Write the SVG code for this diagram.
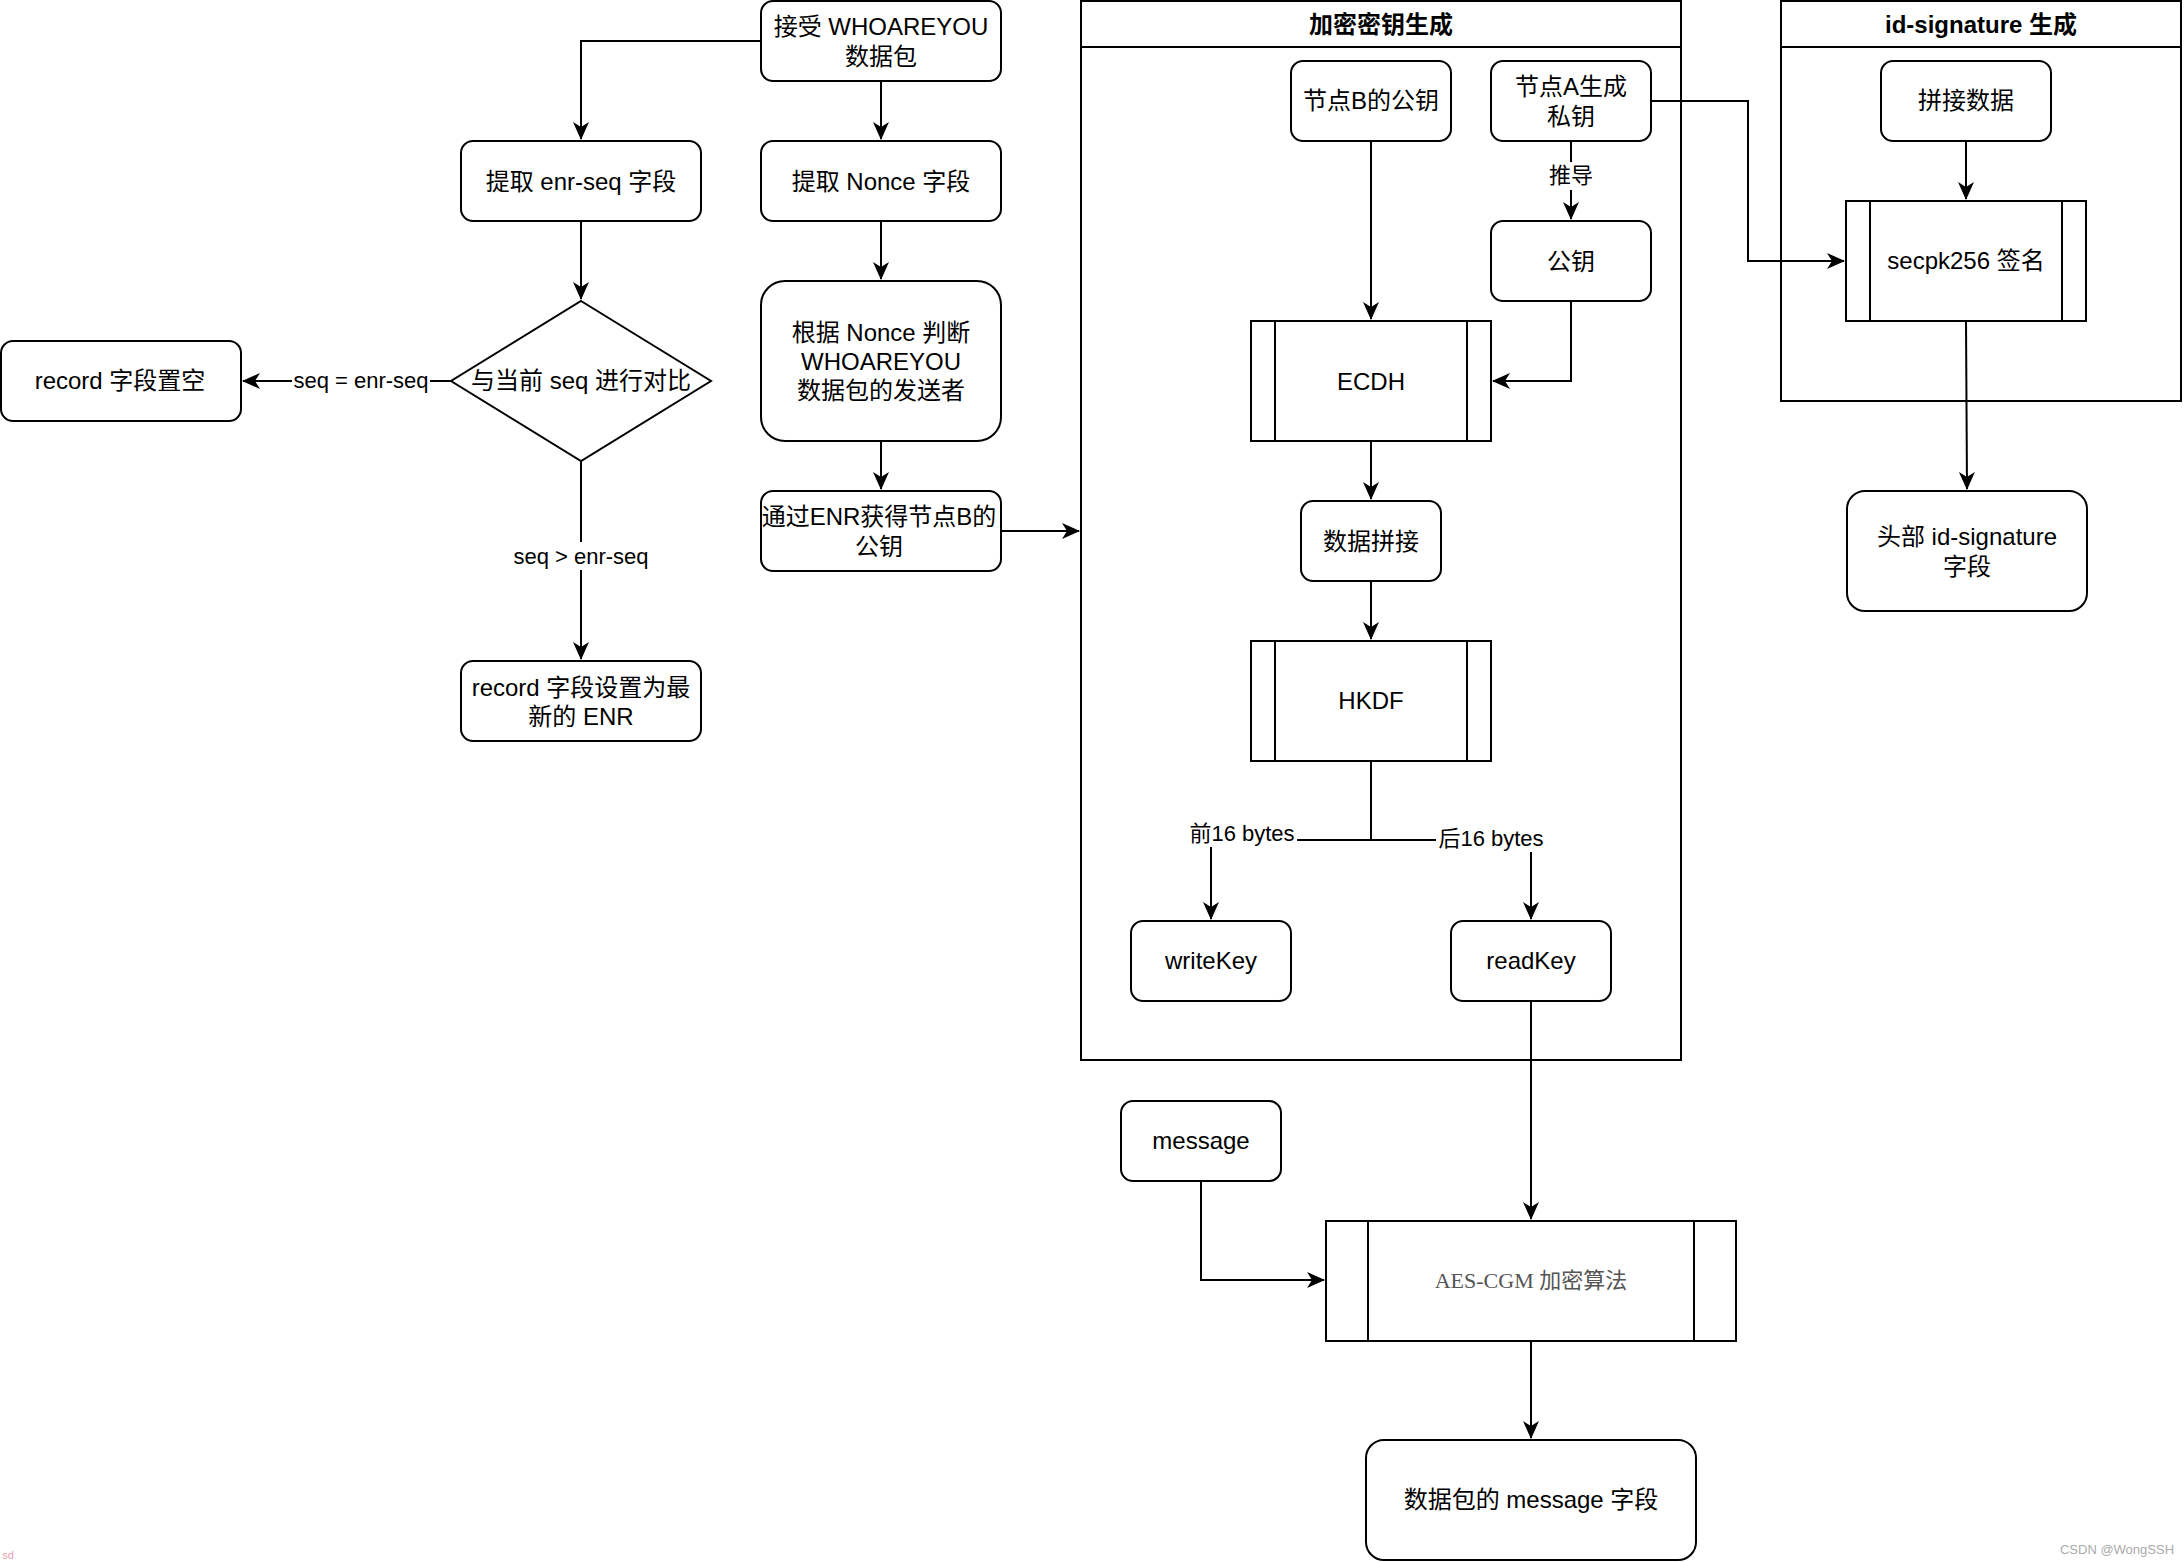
<svg xmlns="http://www.w3.org/2000/svg" width="2184" height="1562" viewBox="0 0 2184 1562">
<style>
text{font-family:"Liberation Sans","Noto Sans CJK SC",sans-serif;fill:#000;text-anchor:middle;dominant-baseline:central}
.n{font-size:24px}
.lbl{font-size:22px}
.title{font-size:24px;font-weight:bold}
.box{fill:#fff;stroke:#000;stroke-width:2}
.edge{fill:none;stroke:#000;stroke-width:2}
.bg{fill:#fff}
</style>
<defs>
<marker id="arr" markerUnits="userSpaceOnUse" markerWidth="20" markerHeight="18" refX="17" refY="8" orient="auto">
<path d="M0,0 L18,8 L0,16 L5,8 z" fill="#000"/>
</marker>
</defs>
<rect width="2184" height="1562" fill="#fff"/>

<g id="container-key">
<rect class="box" x="1081" y="1" width="600" height="1059"/>
<line class="edge" x1="1081" y1="47" x2="1681" y2="47"/>
<text class="title" x="1381" y="24">加密密钥生成</text>
</g>
<g id="container-sig">
<rect class="box" x="1781" y="1" width="400" height="400"/>
<line class="edge" x1="1781" y1="47" x2="2181" y2="47"/>
<text class="title" x="1981" y="24">id-signature 生成</text>
</g>

<g id="connectors">
<path class="edge" d="M761,41 H581 V139" marker-end="url(#arr)"/>
<path class="edge" d="M881,81 V139" marker-end="url(#arr)"/>
<path class="edge" d="M881,221 V279" marker-end="url(#arr)"/>
<path class="edge" d="M881,441 V489" marker-end="url(#arr)"/>
<path class="edge" d="M1001,531 H1079" marker-end="url(#arr)"/>
<path class="edge" d="M581,221 V299" marker-end="url(#arr)"/>
<path class="edge" d="M451,381 H243" marker-end="url(#arr)"/>
<rect class="bg" x="292" y="368" width="138" height="26"/>
<text class="lbl" x="361" y="380">seq = enr-seq</text>
<path class="edge" d="M581,461 V659" marker-end="url(#arr)"/>
<rect class="bg" x="512" y="542" width="138" height="28"/>
<text class="lbl" x="581" y="556">seq &gt; enr-seq</text>

<path class="edge" d="M1371,141 V319" marker-end="url(#arr)"/>
<path class="edge" d="M1571,141 V219" marker-end="url(#arr)"/>
<rect class="bg" x="1548" y="162" width="46" height="28"/>
<text class="lbl" x="1571" y="175">推导</text>
<path class="edge" d="M1571,301 V381 H1493" marker-end="url(#arr)"/>
<path class="edge" d="M1371,441 V499" marker-end="url(#arr)"/>
<path class="edge" d="M1371,581 V639" marker-end="url(#arr)"/>
<path class="edge" d="M1371,761 V840 H1211 V919" marker-end="url(#arr)"/>
<path class="edge" d="M1371,840 H1531 V919" marker-end="url(#arr)"/>
<rect class="bg" x="1187" y="820" width="110" height="27"/>
<text class="lbl" x="1242" y="833">前16 bytes</text>
<rect class="bg" x="1436" y="824" width="110" height="28"/>
<text class="lbl" x="1491" y="838">后16 bytes</text>
<path class="edge" d="M1531,1001 V1219" marker-end="url(#arr)"/>
<path class="edge" d="M1201,1181 V1280 H1324" marker-end="url(#arr)"/>
<path class="edge" d="M1531,1341 V1438" marker-end="url(#arr)"/>

<path class="edge" d="M1651,101 H1748 V261 H1844" marker-end="url(#arr)"/>
<path class="edge" d="M1966,141 V199" marker-end="url(#arr)"/>
<path class="edge" d="M1966,321 L1967,489" marker-end="url(#arr)"/>
</g>

<g id="n-recv">
<rect class="box" x="761" y="1" width="240" height="80" rx="12"/>
<text class="n" x="881" y="26">接受 WHOAREYOU</text>
<text class="n" x="881" y="56">数据包</text>
</g>
<g id="n-enrseq">
<rect class="box" x="461" y="141" width="240" height="80" rx="12"/>
<text class="n" x="581" y="181">提取 enr-seq 字段</text>
</g>
<g id="n-nonce">
<rect class="box" x="761" y="141" width="240" height="80" rx="12"/>
<text class="n" x="881" y="181">提取 Nonce 字段</text>
</g>
<g id="n-judge">
<rect class="box" x="761" y="281" width="240" height="160" rx="24"/>
<text class="n" x="881" y="332">根据 Nonce 判断</text>
<text class="n" x="881" y="361">WHOAREYOU</text>
<text class="n" x="881" y="390">数据包的发送者</text>
</g>
<g id="n-getpub">
<rect class="box" x="761" y="491" width="240" height="80" rx="12"/>
<text class="n" x="879" y="516">通过ENR获得节点B的</text>
<text class="n" x="879" y="546">公钥</text>
</g>
<g id="n-compare">
<path class="box" d="M581,301 L711,381 L581,461 L451,381 Z"/>
<text class="n" x="581" y="380">与当前 seq 进行对比</text>
</g>
<g id="n-empty">
<rect class="box" x="1" y="341" width="240" height="80" rx="12"/>
<text class="n" x="120" y="380">record 字段置空</text>
</g>
<g id="n-setenr">
<rect class="box" x="461" y="661" width="240" height="80" rx="12"/>
<text class="n" x="581" y="687">record 字段设置为最</text>
<text class="n" x="581" y="716">新的 ENR</text>
</g>

<g id="n-bpub">
<rect class="box" x="1291" y="61" width="160" height="80" rx="12"/>
<text class="n" x="1371" y="100">节点B的公钥</text>
</g>
<g id="n-apriv">
<rect class="box" x="1491" y="61" width="160" height="80" rx="12"/>
<text class="n" x="1571" y="86">节点A生成</text>
<text class="n" x="1571" y="116">私钥</text>
</g>
<g id="n-apub">
<rect class="box" x="1491" y="221" width="160" height="80" rx="12"/>
<text class="n" x="1571" y="261">公钥</text>
</g>
<g id="n-ecdh">
<rect class="box" x="1251" y="321" width="240" height="120"/>
<line class="edge" x1="1275" y1="321" x2="1275" y2="441"/>
<line class="edge" x1="1467" y1="321" x2="1467" y2="441"/>
<text class="n" x="1371" y="381">ECDH</text>
</g>
<g id="n-concat">
<rect class="box" x="1301" y="501" width="140" height="80" rx="12"/>
<text class="n" x="1371" y="541">数据拼接</text>
</g>
<g id="n-hkdf">
<rect class="box" x="1251" y="641" width="240" height="120"/>
<line class="edge" x1="1275" y1="641" x2="1275" y2="761"/>
<line class="edge" x1="1467" y1="641" x2="1467" y2="761"/>
<text class="n" x="1371" y="700">HKDF</text>
</g>
<g id="n-writekey">
<rect class="box" x="1131" y="921" width="160" height="80" rx="12"/>
<text class="n" x="1211" y="960">writeKey</text>
</g>
<g id="n-readkey">
<rect class="box" x="1451" y="921" width="160" height="80" rx="12"/>
<text class="n" x="1531" y="960">readKey</text>
</g>
<g id="n-message">
<rect class="box" x="1121" y="1101" width="160" height="80" rx="12"/>
<text class="n" x="1201" y="1140">message</text>
</g>
<g id="n-aes">
<rect class="box" x="1326" y="1221" width="410" height="120"/>
<line class="edge" x1="1368" y1="1221" x2="1368" y2="1341"/>
<line class="edge" x1="1694" y1="1221" x2="1694" y2="1341"/>
<text x="1531" y="1280" style="font-family:'Liberation Serif','Noto Sans CJK SC',serif;font-size:22px;fill:#555">AES-CGM 加密算法</text>
</g>
<g id="n-msgfield">
<rect class="box" x="1366" y="1440" width="330" height="120" rx="18"/>
<text class="n" x="1531" y="1499">数据包的 message 字段</text>
</g>

<g id="n-splice">
<rect class="box" x="1881" y="61" width="170" height="80" rx="12"/>
<text class="n" x="1966" y="100">拼接数据</text>
</g>
<g id="n-sign">
<rect class="box" x="1846" y="201" width="240" height="120"/>
<line class="edge" x1="1870" y1="201" x2="1870" y2="321"/>
<line class="edge" x1="2062" y1="201" x2="2062" y2="321"/>
<text class="n" x="1966" y="260">secpk256 签名</text>
</g>
<g id="n-header">
<rect class="box" x="1847" y="491" width="240" height="120" rx="18"/>
<text class="n" x="1967" y="536">头部 id-signature</text>
<text class="n" x="1967" y="566">字段</text>
</g>

<text x="8" y="1555" style="font-size:11px;fill:#e8a0b0">sd</text>
<text x="2117" y="1549" style="font-size:13px;fill:#aaa">CSDN @WongSSH</text>
</svg>
